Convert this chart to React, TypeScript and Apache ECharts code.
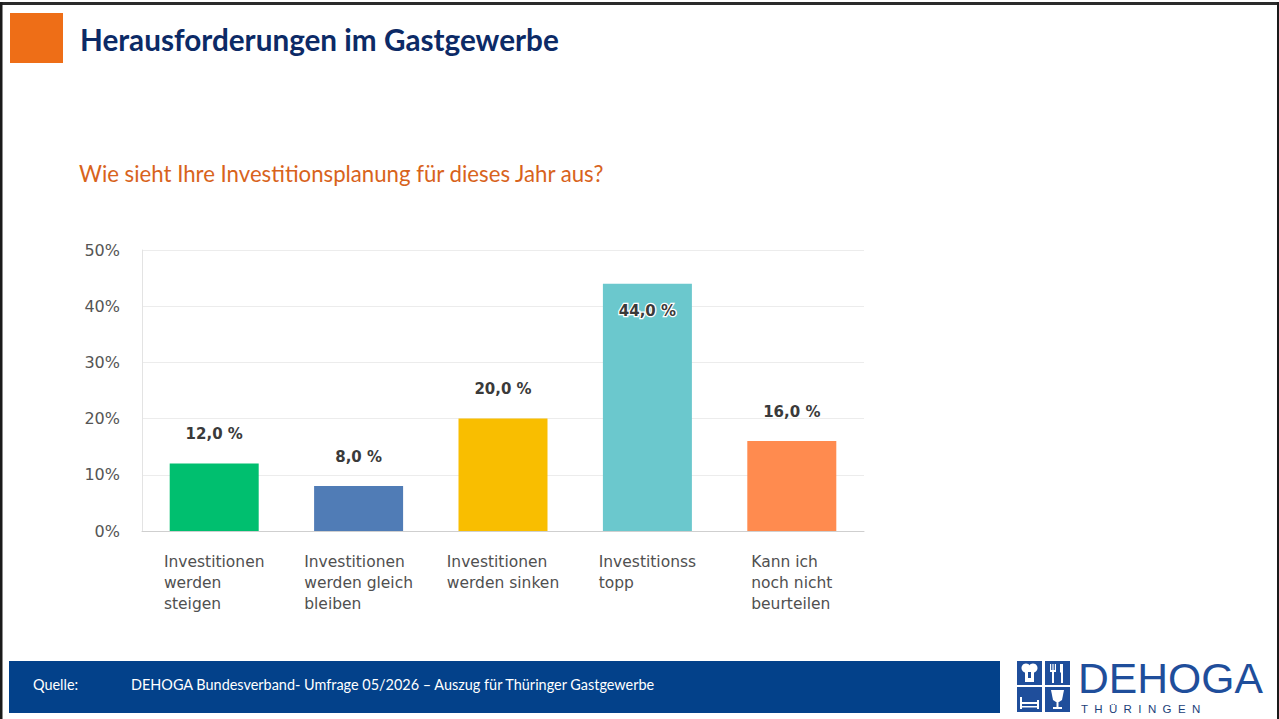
import React, { useEffect, useRef } from 'react';
import * as echarts from 'echarts';

const categories = [
  'Investitionen\nwerden\nsteigen',
  'Investitionen\nwerden gleich\nbleiben',
  'Investitionen\nwerden sinken',
  'Investitionss\ntopp',
  'Kann ich\nnoch nicht\nbeurteilen',
];
const values = [12, 8, 20, 44, 16];
const barColors = ['#00bf6f', '#507cb6', '#f9be00', '#6bc8cd', '#ff8b4f'];
const yMin = 0;
const yMax = 50;
const yInterval = 10;

const titleText = 'Herausforderungen im Gastgewerbe';
const subtitleText = 'Wie sieht Ihre Investitionsplanung für dieses Jahr aus?';
const sourceLabel = 'Quelle:';
const sourceText = 'DEHOGA Bundesverband- Umfrage 05/2026 – Auszug für Thüringer Gastgewerbe';
const logoText = 'DEHOGA';
const logoSub = 'T  H  Ü  R  I  N  G  E  N';

function fitSize(text: string, weight: string, family: string, target: number): number {
  const ctx = document.createElement('canvas').getContext('2d');
  if (!ctx) return 16;
  ctx.font = `${weight} 100px ${family}`;
  const w = ctx.measureText(text).width;
  return w > 0 ? (100 * target) / w : 16;
}

export default function App() {
  const ref = useRef<HTMLDivElement>(null);

  useEffect(() => {
    document.body.style.margin = '0';
    if (!ref.current) return;
    const chart = echarts.init(ref.current, undefined, { renderer: 'svg' });

    const titleFont = 'Lato';
    const titleSize = fitSize(titleText, 'bold', titleFont, 479);
    const subSize = fitSize(subtitleText, 'normal', titleFont, 526);
    const srcSize = fitSize(sourceText, 'normal', titleFont, 526);
    const logoSize = fitSize(logoText, 'normal', '"Liberation Sans"', 185);
    const maxIdx = values.indexOf(Math.max(...values));
    const fmt = (v: number) => v.toFixed(1).replace('.', ',') + ' %';

    const logoBlue = '#1f4e9b';
    const white = '#ffffff';

    chart.setOption({
      animation: false,
      backgroundColor: '#ffffff',
      grid: { left: 142, right: 415, top: 250, bottom: 188, containLabel: false },
      xAxis: {
        type: 'category',
        data: categories,
        axisLine: { show: true, lineStyle: { color: '#cfcfcf', width: 1 } },
        axisTick: { show: false },
        axisLabel: {
          margin: 20,
          interval: 0,
          align: 'center',
          verticalAlign: 'top',
          formatter: (v: string) => v.split('\n').map((l) => `{l|${l}}`).join('\n'),
          rich: {
            l: {
              align: 'left',
              fontFamily: 'DejaVu Sans',
              fontSize: 15.5,
              lineHeight: 21,
              color: '#505050',
            },
          },
        },
      },
      yAxis: {
        type: 'value',
        min: yMin,
        max: yMax,
        interval: yInterval,
        axisLine: { show: true, lineStyle: { color: '#e3e3e3', width: 1 } },
        axisTick: { show: false },
        splitLine: { show: true, lineStyle: { color: '#ececec', width: 1 } },
        axisLabel: {
          margin: 22,
          formatter: '{value}%',
          fontFamily: 'DejaVu Sans',
          fontSize: 16,
          color: '#555555',
        },
      },
      series: [
        {
          type: 'bar',
          barWidth: 89,
          data: values.map((v, i) => ({
            value: v,
            itemStyle: { color: barColors[i] },
            label:
              i === maxIdx
                ? {
                    position: 'insideTop',
                    distance: 20,
                    textBorderColor: '#ffffff',
                    textBorderWidth: 2.5,
                  }
                : undefined,
          })),
          label: {
            show: true,
            position: 'top',
            distance: 22,
            formatter: (p: any) => fmt(p.value),
            fontFamily: 'DejaVu Sans',
            fontWeight: 'bold',
            fontSize: 15,
            color: '#3a3a3a',
          },
        },
      ],
      graphic: [
        // frame
        { type: 'rect', shape: { x: 0, y: 2, width: 1279, height: 3 }, style: { fill: '#2a2a2a' }, silent: true, z: 100 },
        { type: 'rect', shape: { x: 0, y: 2, width: 2.5, height: 717 }, style: { fill: '#1a1a1a' }, silent: true, z: 100 },
        { type: 'rect', shape: { x: 1277, y: 2, width: 2, height: 717 }, style: { fill: '#1a1a1a' }, silent: true, z: 100 },
        // header
        { type: 'rect', shape: { x: 10, y: 13, width: 53, height: 50 }, style: { fill: '#ee6e17' }, silent: true, z: 100 },
        {
          type: 'text', x: 80, y: 39, z: 100, silent: true,
          style: { text: titleText, font: `bold ${titleSize}px ${titleFont}`, fill: '#0c2a66', align: 'left', verticalAlign: 'middle' },
        },
        {
          type: 'text', x: 79, y: 173, z: 100, silent: true,
          style: { text: subtitleText, font: `normal ${subSize}px ${titleFont}`, fill: '#d8631c', align: 'left', verticalAlign: 'middle' },
        },
        // footer
        { type: 'rect', shape: { x: 9, y: 661, width: 991, height: 52 }, style: { fill: '#03418a' }, silent: true, z: 100 },
        {
          type: 'text', x: 33, y: 684, z: 101, silent: true,
          style: { text: sourceLabel, font: `normal ${srcSize}px ${titleFont}`, fill: white, align: 'left', verticalAlign: 'middle' },
        },
        {
          type: 'text', x: 131, y: 684, z: 101, silent: true,
          style: { text: sourceText, font: `normal ${srcSize}px ${titleFont}`, fill: white, align: 'left', verticalAlign: 'middle' },
        },
        // logo squares
        { type: 'rect', shape: { x: 1017, y: 661, width: 25, height: 24 }, style: { fill: logoBlue }, silent: true, z: 100 },
        { type: 'rect', shape: { x: 1045, y: 661, width: 25, height: 24 }, style: { fill: logoBlue }, silent: true, z: 100 },
        { type: 'rect', shape: { x: 1017, y: 687, width: 25, height: 25 }, style: { fill: logoBlue }, silent: true, z: 100 },
        { type: 'rect', shape: { x: 1045, y: 687, width: 25, height: 25 }, style: { fill: logoBlue }, silent: true, z: 100 },
        // chef hat
        { type: 'circle', shape: { cx: 1026, cy: 668, r: 4.5 }, style: { fill: white }, silent: true, z: 101 },
        { type: 'circle', shape: { cx: 1033, cy: 668, r: 4.5 }, style: { fill: white }, silent: true, z: 101 },
        { type: 'rect', shape: { x: 1025, y: 669, width: 9, height: 13 }, style: { fill: white }, silent: true, z: 101 },
        { type: 'rect', shape: { x: 1028, y: 672, width: 3, height: 6 }, style: { fill: logoBlue }, silent: true, z: 102 },
        // cutlery
        { type: 'rect', shape: { x: 1050, y: 664, width: 1.2, height: 7 }, style: { fill: white }, silent: true, z: 101 },
        { type: 'rect', shape: { x: 1052.4, y: 664, width: 1.2, height: 7 }, style: { fill: white }, silent: true, z: 101 },
        { type: 'rect', shape: { x: 1054.8, y: 664, width: 1.2, height: 7 }, style: { fill: white }, silent: true, z: 101 },
        { type: 'rect', shape: { x: 1050, y: 670, width: 6, height: 2 }, style: { fill: white }, silent: true, z: 101 },
        { type: 'rect', shape: { x: 1052, y: 671, width: 2, height: 12 }, style: { fill: white }, silent: true, z: 101 },
        { type: 'polygon', shape: { points: [[1060, 664], [1063, 664], [1063, 683], [1061, 683], [1061, 673], [1060, 672]] }, style: { fill: white }, silent: true, z: 101 },
        // bed
        { type: 'rect', shape: { x: 1020, y: 697, width: 2, height: 12 }, style: { fill: white }, silent: true, z: 101 },
        { type: 'rect', shape: { x: 1037, y: 700, width: 2, height: 9 }, style: { fill: white }, silent: true, z: 101 },
        { type: 'rect', shape: { x: 1021, y: 702, width: 17, height: 2 }, style: { fill: white }, silent: true, z: 101 },
        { type: 'rect', shape: { x: 1021, y: 706, width: 17, height: 1.5 }, style: { fill: white }, silent: true, z: 101 },
        // glass
        { type: 'polygon', shape: { points: [[1051, 690], [1064, 690], [1062, 700], [1059, 702], [1056, 702], [1053, 700]] }, style: { fill: white }, silent: true, z: 101 },
        { type: 'rect', shape: { x: 1056.5, y: 701, width: 2, height: 6 }, style: { fill: white }, silent: true, z: 101 },
        { type: 'rect', shape: { x: 1053, y: 707, width: 9, height: 2 }, style: { fill: white }, silent: true, z: 101 },
        // logo text
        {
          type: 'text', x: 1078, y: 678, z: 101, silent: true,
          style: { text: logoText, font: `normal ${logoSize}px "Liberation Sans"`, fill: logoBlue, align: 'left', verticalAlign: 'middle' },
        },
        {
          type: 'text', x: 1081, y: 715, z: 101, silent: true,
          style: { text: logoSub, font: 'normal 11.5px "Liberation Sans"', fill: '#1b3f7a', align: 'left', verticalAlign: 'bottom' },
        },
      ],
    });

    return () => chart.dispose();
  }, []);

  return (
    <div
      ref={ref}
      style={{ position: 'fixed', left: 0, top: 0, width: 1279, height: 719, background: '#ffffff' }}
    />
  );
}
